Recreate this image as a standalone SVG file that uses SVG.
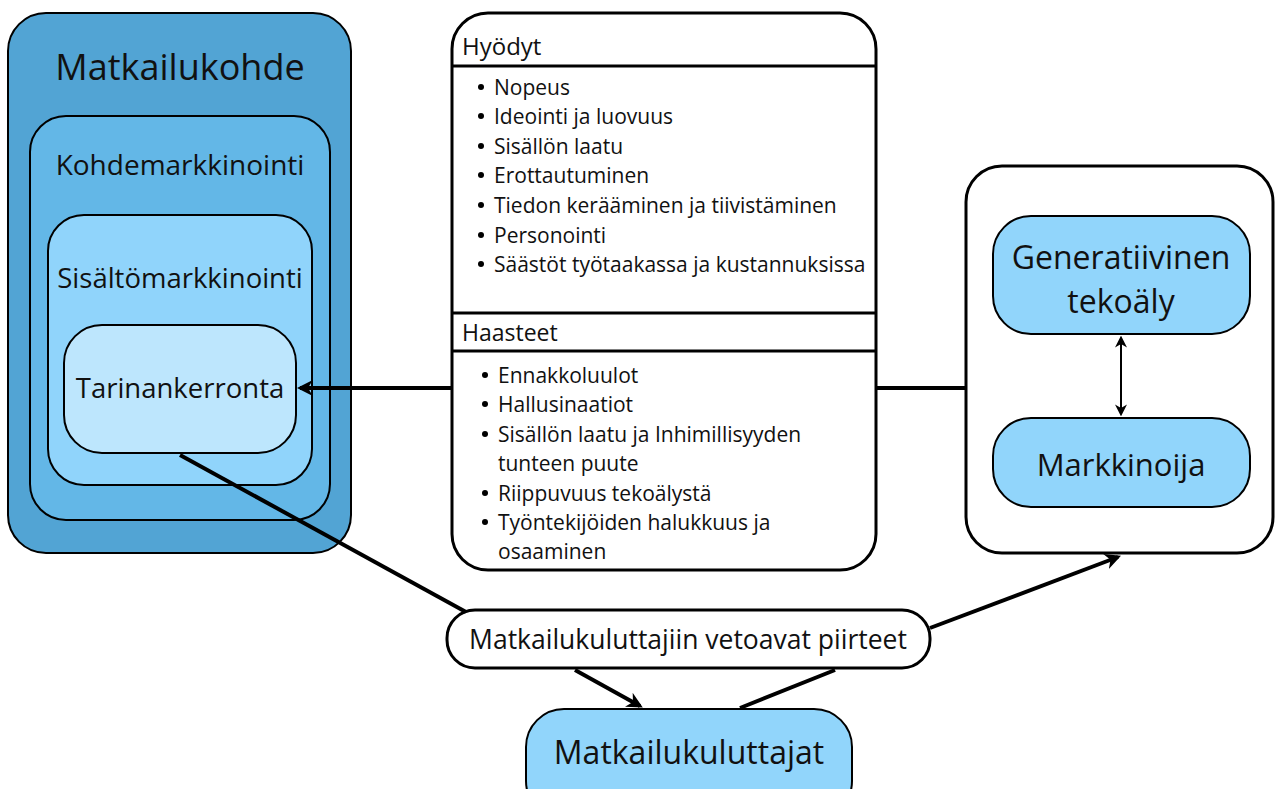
<svg xmlns="http://www.w3.org/2000/svg" width="1275" height="789" viewBox="0 0 1275 789">
<defs>
<style>
text{font-family:"Open Sans","Noto Sans","DejaVu Sans",sans-serif;fill:#111}
.box{stroke:#000;stroke-width:2}
.c{text-anchor:middle}
.li{font-size:21px}
.con{stroke:#000;stroke-width:4;fill:none}
</style>
<marker id="ah" viewBox="0 0 10 10" refX="8" refY="5" markerWidth="4" markerHeight="4" orient="auto-start-reverse" markerUnits="strokeWidth">
<path d="M0,0 L10,5 L0,10 L3,5 Z" fill="#000"/>
</marker>
<marker id="ahs" viewBox="0 0 10 10" refX="8" refY="5" markerWidth="6" markerHeight="6" orient="auto-start-reverse" markerUnits="strokeWidth">
<path d="M0,0 L10,5 L0,10 L3,5 Z" fill="#000"/>
</marker>
</defs>
<rect width="1275" height="789" fill="#fff"/>

<g id="matkailukohde">
<rect class="box" x="8" y="13" width="343" height="540" rx="38" fill="#52a4d4"/>
<text class="c" x="180" y="80" font-size="36">Matkailukohde</text>
</g>
<g id="kohdemarkkinointi">
<rect class="box" x="30" y="116" width="300" height="404" rx="36" fill="#63b7e7"/>
<text class="c" x="180" y="175" font-size="28">Kohdemarkkinointi</text>
</g>
<g id="sisaltomarkkinointi">
<rect class="box" x="48" y="215" width="264" height="270" rx="36" fill="#90d4fb"/>
<text class="c" x="180" y="288" font-size="27.5">Sisältömarkkinointi</text>
</g>
<g id="tarinankerronta">
<rect class="box" x="64" y="325" width="232" height="128" rx="38" fill="#bde6fd"/>
<text class="c" x="180" y="398" font-size="27.5">Tarinankerronta</text>
</g>

<g id="hyodyt-haasteet">
<rect x="452" y="13" width="424" height="557" rx="36" fill="#fff" stroke="#000" stroke-width="3"/>
<line x1="452" y1="66" x2="876" y2="66" stroke="#000" stroke-width="3"/>
<line x1="452" y1="313" x2="876" y2="313" stroke="#000" stroke-width="3"/>
<line x1="452" y1="351" x2="876" y2="351" stroke="#000" stroke-width="3"/>
<text x="462" y="55" font-size="24">Hyödyt</text>
<g class="li">
<circle cx="481" cy="87" r="3"/><text x="494" y="95">Nopeus</text>
<circle cx="481" cy="116" r="3"/><text x="494" y="124">Ideointi ja luovuus</text>
<circle cx="481" cy="146" r="3"/><text x="494" y="154">Sisällön laatu</text>
<circle cx="481" cy="175" r="3"/><text x="494" y="183">Erottautuminen</text>
<circle cx="481" cy="205" r="3"/><text x="494" y="213">Tiedon kerääminen ja tiivistäminen</text>
<circle cx="481" cy="235" r="3"/><text x="494" y="243">Personointi</text>
<circle cx="481" cy="264" r="3"/><text x="494" y="272">Säästöt työtaakassa ja kustannuksissa</text>
</g>
<text x="462" y="341" font-size="23">Haasteet</text>
<g class="li">
<circle cx="485" cy="375" r="3"/><text x="498" y="383">Ennakkoluulot</text>
<circle cx="485" cy="404" r="3"/><text x="498" y="412">Hallusinaatiot</text>
<circle cx="485" cy="434" r="3"/><text x="498" y="442">Sisällön laatu ja Inhimillisyyden</text>
<text x="498" y="471">tunteen puute</text>
<circle cx="485" cy="493" r="3"/><text x="498" y="501">Riippuvuus tekoälystä</text>
<circle cx="485" cy="522" r="3"/><text x="498" y="530">Työntekijöiden halukkuus ja</text>
<text x="498" y="559">osaaminen</text>
</g>
</g>

<g id="tekoaly-markkinoija">
<rect x="966" y="166" width="307" height="387" rx="36" fill="#fff" stroke="#000" stroke-width="3"/>
</g>
<g id="generatiivinen">
<rect class="box" x="993" y="216" width="257" height="118" rx="38" fill="#91d5fb"/>
<text class="c" x="1121" y="269" font-size="32">Generatiivinen</text>
<text class="c" x="1121" y="313" font-size="32">tekoäly</text>
</g>
<g id="markkinoija">
<rect class="box" x="993" y="418" width="257" height="89" rx="38" fill="#91d5fb"/>
<text class="c" x="1121" y="476" font-size="31">Markkinoija</text>
</g>

<g id="piirteet">
<rect x="447" y="610" width="483" height="58" rx="28" fill="#fff" stroke="#000" stroke-width="3"/>
<text class="c" x="688" y="649" font-size="26.5">Matkailukuluttajiin vetoavat piirteet</text>
</g>
<g id="matkailukuluttajat">
<rect x="526" y="709" width="326" height="110" rx="38" fill="#91d5fb" stroke="#000" stroke-width="2"/>
<text class="c" x="689" y="764" font-size="32">Matkailukuluttajat</text>
</g>

<g id="connectors">
<line class="con" x1="452" y1="388" x2="300" y2="388" marker-end="url(#ah)"/>
<line class="con" x1="876" y1="388" x2="966" y2="388"/>
<line class="con" x1="180" y1="455" x2="466" y2="612"/>
<line class="con" x1="575" y1="670" x2="640" y2="706" marker-end="url(#ah)"/>
<line class="con" x1="740" y1="708" x2="835" y2="670"/>
<line class="con" x1="930" y1="628" x2="1118" y2="557" marker-end="url(#ah)"/>
<line x1="1121" y1="338" x2="1121" y2="414" stroke="#000" stroke-width="2" marker-start="url(#ahs)" marker-end="url(#ahs)"/>
</g>
</svg>
